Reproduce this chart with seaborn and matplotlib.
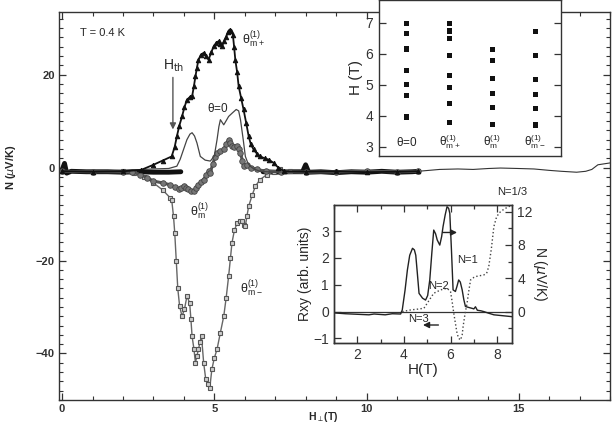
import numpy as np
import seaborn as sns
import matplotlib.pyplot as plt
from matplotlib.ticker import MultipleLocator

# main panel: N vs H_perp at T = 0.4 K
tp_h = [0, 1, 2, 2.6, 3.0, 3.3, 3.6, 3.7, 3.77, 3.85, 3.94, 4.02, 4.1, 4.2, 4.27, 4.33, 4.38,
        4.43, 4.48, 4.56, 4.65, 4.73, 4.81, 4.9, 4.98, 5.06, 5.14, 5.2, 5.25, 5.32, 5.39, 5.45,
        5.5, 5.56, 5.61, 5.65, 5.69, 5.75, 5.8, 5.88, 5.96, 6.05, 6.13, 6.2, 6.29, 6.4, 6.51,
        6.65, 6.79, 6.95, 7.1, 7.3, 8, 9, 10, 11, 11.7]
tp_n = [-0.8, -0.9, -0.8, -0.5, 0.6, 1.5, 2.4, 4.5, 6.7, 9, 11, 13, 14.6, 15.2, 15.3, 17.5, 19.6,
        21.5, 23.2, 24.3, 24.7, 24.0, 23.2, 24.8, 26.1, 26.8, 27.2, 26.5, 26.1, 27.2, 28.2, 29.2,
        29.7, 29.3, 28.6, 26, 23.2, 20.5, 17.5, 15, 12.5, 9.5, 6.7, 5.0, 3.9, 3.0, 2.4,
        2.0, 1.7, 1.0, 0.0, -0.8, -0.9, -0.8, -1.0, -0.9, -0.8]

t0_h = [0, 1, 2, 3, 3.5, 3.77, 3.88, 3.99, 4.1, 4.2, 4.27, 4.35, 4.43, 4.54, 4.7, 4.87, 5.0,
        5.09, 5.15, 5.2, 5.31, 5.4, 5.47, 5.6, 5.72, 5.8, 5.86, 5.95, 6.02, 6.1, 6.18, 6.3,
        6.5, 7, 8, 9, 10, 11, 11.7]
t0_n = [-0.7, -0.8, -0.6, -0.3, -0.2, 0.3, 1.8, 3.9, 6.0, 7.2, 7.5, 6.8, 5.3, 2.4, 1.6, 1.4, 2.5,
        6.0, 8.8, 10.3, 9.2, 10.2, 11, 11.8, 12.5, 12.2, 10.3, 6, 2.4, 1.0, 0.3, -0.3,
        -0.8, -1.0, -0.8, -0.9, -0.8, -0.9, -0.8]

tm_h = [0, 1, 2, 2.3, 2.57, 2.8, 3.0, 3.3, 3.55, 3.7, 3.83, 3.92, 3.99, 4.07, 4.15, 4.24, 4.32,
        4.4, 4.48, 4.56, 4.65, 4.73, 4.81, 4.87, 4.95, 5.02, 5.09, 5.2, 5.31, 5.39, 5.47, 5.53,
        5.58, 5.66, 5.75, 5.8, 5.86, 5.92, 5.96, 6.07, 6.2, 6.4, 6.7, 7.2, 8, 9, 10, 11, 11.7]
tm_n = [-0.8, -0.9, -0.9, -1.0, -1.5, -2.2, -2.9, -3.3, -3.7, -4.2, -4.7, -4.3, -4.0, -4.3, -4.7,
        -5.0, -5.1, -4.5, -3.7, -3.1, -2.6, -1.7, -0.8, -1.1, 0.8, 2.2, 3.2, 3.5, 3.9, 5.0, 6.0,
        5.2, 4.6, 4.4, 4.6, 4.0, 3.2, 1.5, 0.3, 0.6, 0.0, -0.4, -0.8, -0.9, -1.0, -0.9, -0.8,
        -0.9, -0.8]

tmm_h = [0, 1, 2, 2.35, 2.7, 3.0, 3.3, 3.55, 3.6, 3.66, 3.7, 3.75, 3.8, 3.86, 3.94, 4.02, 4.1,
         4.19, 4.23, 4.27, 4.33, 4.38, 4.43, 4.48, 4.53, 4.58, 4.65, 4.72, 4.78, 4.85, 4.92, 5.0,
         5.09, 5.2, 5.31, 5.39, 5.47, 5.53, 5.58, 5.66, 5.75, 5.83, 5.91, 5.97, 6.02, 6.07, 6.13,
         6.24, 6.35, 6.5, 6.73, 6.95, 7.17, 7.5, 8, 9, 10, 11, 11.7]
tmm_n = [-0.8, -0.9, -0.8, -1.1, -2.0, -3.3, -4.8, -6.5, -6.9, -10.5, -14, -20, -26, -29.8, -32,
         -30.5, -27.7, -29.1, -32.5, -36.3, -39, -42, -40.5, -39.1, -37.5, -36.3, -42, -45.6,
         -46.5, -47.5, -43.4, -41, -39.1, -35.5, -32, -28, -23.4, -19.5, -16.2, -13.5, -11.9,
         -11.4, -11.5, -12.3, -12.6, -10.5, -8.3, -6, -4.0, -2.6, -1.5, -0.9, -0.4, -0.7, -0.9,
         -1.0, -0.9, -1.0, -0.8]

base_h = [0.0, 0.08, 0.15, 0.3, 0.8, 1.5, 2.0, 2.5, 3.0, 3.5, 3.9]
base_n = [-0.5, 0.9, -1.2, -0.8, -0.9, -0.9, -1.0, -0.9, -1.0, -1.0, -0.9]
base2_h = [6.6, 7.0, 7.5, 7.9, 8.0, 8.1, 8.5, 9.0, 9.5, 10.0, 10.5, 11.0, 11.5, 11.7]
base2_n = [-0.9, -1.0, -0.9, -0.9, 0.6, -1.0, -0.9, -1.1, -0.9, -1.0, -0.8, -1.0, -0.9, -0.8]

tail_h = [11.7, 12.4, 13.0, 13.5, 14.0, 14.4, 15.0, 15.5, 16.0, 16.4, 16.9, 17.2, 17.4, 17.6, 18.0]
tail_n = [-0.8, -0.4, -0.3, -0.4, -0.2, -0.1, -0.2, -0.3, -0.6, -0.8, -1.0, -0.8, -0.4, 0.6, 1.0]

# top inset: peak positions H (T) for each angle
cat_labels = [r'$\mathregular{\theta}$=0', r'$\mathregular{\theta_{m+}^{(1)}}$',
              r'$\mathregular{\theta_{m}^{(1)}}$', r'$\mathregular{\theta_{m-}^{(1)}}$']
peaks = [
    [6.96, 6.65, 6.15, 5.45, 5.0, 4.64, 3.96],
    [6.96, 6.73, 6.49, 5.94, 5.29, 4.91, 4.39, 3.78],
    [6.14, 5.77, 5.19, 4.71, 4.27, 3.71],
    [6.72, 5.95, 5.17, 4.67, 4.24, 3.70],
]

# bottom inset: Rxy and N at theta = 0
rxy_h = [1.03, 1.5, 2.0, 2.5, 2.72, 3.2, 3.5, 3.86, 3.93, 4.05, 4.15, 4.25, 4.37, 4.45, 4.51, 4.58,
         4.65, 4.8, 4.93, 5.02, 5.11, 5.2, 5.28, 5.36, 5.43, 5.54, 5.62, 5.68, 5.77, 5.85, 5.92,
         5.97, 6.04, 6.11, 6.21, 6.28, 6.35, 6.42, 6.5, 6.57, 6.64, 6.8, 6.93, 7.0, 7.07, 7.15,
         7.3, 7.43, 7.6, 7.86, 8.2, 8.65]
rxy = [-0.05, -0.08, -0.1, -0.12, -0.09, -0.12, -0.08, -0.09, 0.06, 0.8, 1.55, 2.1, 2.36, 2.3,
       2.1, 1.4, 0.68, 0.5, 0.43, 0.6, 1.18, 2.2, 3.04, 2.9, 2.67, 2.48, 2.8, 3.17, 3.6, 3.91,
       3.85, 3.66, 2.3, 0.81, 0.75, 0.95, 1.18, 1.1, 0.81, 0.45, 0.19, 0.15, 0.12, 0.1, 0.18,
       0.05, 0.03, 0.0, -0.05, -0.12, -0.15, -0.19]
nin_h = [3.93, 4.29, 4.6, 4.86, 5.0, 5.14, 5.28, 5.43, 5.57, 5.71, 5.85, 6.0, 6.07, 6.14, 6.21,
         6.28, 6.35, 6.43, 6.5, 6.54, 6.62, 6.71, 6.78, 6.86, 7.0, 7.07, 7.25, 7.43, 7.55, 7.64,
         7.75, 7.86, 7.96, 8.07, 8.3, 8.65]
nin = [0, 0.2, 0.3, 0.4, 1.0, 1.6, 2.2, 2.4, 2.6, 2.7, 2.8, 2.4, 1.2, -0.2, -1.4, -2.6, -3.2,
       -3.4, -2.8, -1.8, -0.3, 1.0, 2.4, 3.8, 4.1, 4.2, 4.3, 4.4, 4.6, 5.4, 7.5, 10.2, 11.2,
       11.8, 12.3, 12.8]

sns.set_style('ticks')
plt.rcParams['font.family'] = ['Liberation Sans', 'DejaVu Sans']
plt.rcParams['mathtext.fontset'] = 'dejavusans'
plt.rcParams['axes.edgecolor'] = '#333333'
plt.rcParams['xtick.color'] = '#333333'
plt.rcParams['ytick.color'] = '#333333'

fig = plt.figure(figsize=(6.15, 4.25), dpi=100)
ax = fig.add_axes([0.096, 0.059, 0.896, 0.913])

sns.lineplot(x=base_h, y=base_n, ax=ax, color='#111111', lw=3.5, sort=False, estimator=None)
sns.lineplot(x=base2_h, y=base2_n, ax=ax, color='#111111', lw=3.5, sort=False, estimator=None)
sns.lineplot(x=tail_h, y=tail_n, ax=ax, color='#333333', lw=0.8, sort=False, estimator=None)
sns.lineplot(x=tmm_h, y=tmm_n, ax=ax, color='#666666', lw=1.0, marker='s', markersize=3.5,
             markerfacecolor='#cccccc', markeredgecolor='#555555', markeredgewidth=0.8,
             sort=False, estimator=None)
sns.lineplot(x=tm_h, y=tm_n, ax=ax, color='#555555', lw=2.2, marker='o', markersize=4,
             markerfacecolor='#777777', markeredgecolor='#444444', markeredgewidth=0.6,
             sort=False, estimator=None)
sns.lineplot(x=t0_h, y=t0_n, ax=ax, color='#444444', lw=0.9, sort=False, estimator=None)
sns.lineplot(x=tp_h, y=tp_n, ax=ax, color='#111111', lw=1.3, marker='^', markersize=3.2,
             markerfacecolor='#111111', markeredgecolor='#111111', sort=False, estimator=None)

ax.set_xlim(-0.1, 18.0)
ax.set_ylim(-50, 33.5)
ax.xaxis.set_major_locator(MultipleLocator(5))
ax.xaxis.set_minor_locator(MultipleLocator(1))
ax.yaxis.set_major_locator(MultipleLocator(20))
ax.yaxis.set_minor_locator(MultipleLocator(2))
ax.tick_params(which='both', direction='in', top=True, right=True, labelsize=8, pad=3)
ax.tick_params(which='major', length=5, width=0.9)
ax.tick_params(which='minor', length=3, width=0.8)
for lab in ax.get_xticklabels() + ax.get_yticklabels():
    lab.set_fontweight('bold')
for s in ax.spines.values():
    s.set_linewidth(1.0)
ax.set_xlabel(r'H$_{\perp}$(T)', fontsize=7.5, fontweight='bold')
ax.xaxis.set_label_coords(0.48, -0.027)
ax.set_ylabel(r'N ($\mu$V/K)', fontsize=8, fontweight='bold')
ax.yaxis.set_label_coords(-0.075, 0.6)

ax.text(0.6, 29, 'T = 0.4 K', fontsize=8, va='center')
ax.text(3.3, 22, r'H$_{\rm th}$', fontsize=10, va='center')
ax.annotate('', xy=(3.64, 7.6), xytext=(3.64, 20),
            arrowprops=dict(arrowstyle='-|>', color='#555555', lw=1.0, mutation_scale=9))
ax.text(5.9, 27.5, r'$\mathregular{\theta_{m+}^{(1)}}$', fontsize=9, va='center')
ax.text(4.75, 12.8, r'$\mathregular{\theta}$=0', fontsize=8.5, va='center')
ax.text(4.2, -9.5, r'$\mathregular{\theta_{m}^{(1)}}$', fontsize=9, va='center')
ax.text(5.85, -26, r'$\mathregular{\theta_{m-}^{(1)}}$', fontsize=9, va='center')

# top inset
ax1 = fig.add_axes([0.616, 0.633, 0.296, 0.367])
ax1.set_facecolor('white')
for i, vals in enumerate(peaks):
    sns.scatterplot(x=[i] * len(vals), y=vals, ax=ax1, marker='s', s=14, color='#111111',
                    edgecolor='none')
ax1.set_xlim(-0.65, 3.6)
ax1.set_ylim(2.7, 7.73)
ax1.set_xticks([])
ax1.yaxis.set_major_locator(MultipleLocator(1))
ax1.tick_params(axis='y', direction='in', right=True, labelsize=10, length=5, width=0.9, pad=4)
ax1.set_ylabel('H (T)', fontsize=11, labelpad=2)
for i, lab in enumerate(cat_labels):
    ax1.text(i, 3.15, lab, fontsize=8.5, ha='center', va='center')
for s in ax1.spines.values():
    s.set_linewidth(1.0)

# bottom inset
ax2 = fig.add_axes([0.543, 0.193, 0.290, 0.325])
ax2.set_facecolor('white')
ax2.axhline(0, color='#333333', lw=0.9)
sns.lineplot(x=rxy_h, y=rxy, ax=ax2, color='#222222', lw=1.0, sort=False, estimator=None)
ax2.set_xlim(1.0, 8.65)
ax2.set_ylim(-1.17, 3.98)
ax2.xaxis.set_major_locator(MultipleLocator(2))
ax2.xaxis.set_minor_locator(MultipleLocator(1))
ax2.yaxis.set_major_locator(MultipleLocator(1))
ax2.tick_params(which='both', direction='in', top=True, labelsize=10, width=0.9)
ax2.tick_params(which='major', length=5)
ax2.tick_params(which='minor', length=3)
ax2.set_xlabel('H(T)', fontsize=11, labelpad=1)
ax2.set_ylabel('Rxy (arb. units)', fontsize=10, labelpad=1)
ax2r = ax2.twinx()
sns.lineplot(x=nin_h, y=nin, ax=ax2r, color='#444444', lw=1.0, linestyle=':', sort=False,
             estimator=None)
ax2r.set_ylim(-3.76, 12.8)
ax2r.yaxis.set_major_locator(MultipleLocator(4))
ax2r.yaxis.set_minor_locator(MultipleLocator(2))
ax2r.tick_params(which='both', direction='in', labelsize=10, width=0.9)
ax2r.tick_params(which='major', length=5)
ax2r.tick_params(which='minor', length=3)
ax2r.set_ylabel(r'N ($\mu$V/K)', fontsize=10, rotation=270, labelpad=12)
for s in list(ax2.spines.values()) + list(ax2r.spines.values()):
    s.set_linewidth(1.0)

ax2r.text(8.0, 14.3, 'N=1/3', fontsize=8, ha='left', va='center', clip_on=False)
ax2r.text(6.3, 6.2, 'N=1', fontsize=8, va='center')
ax2r.text(5.05, 3.1, 'N=2', fontsize=8, va='center')
ax2r.text(4.2, -0.9, 'N=3', fontsize=8, va='center')
ax2.annotate('', xy=(6.4, 2.95), xytext=(5.55, 2.95),
             arrowprops=dict(arrowstyle='-|>', color='#222222', lw=1.0, mutation_scale=9))
ax2.annotate('', xy=(4.7, -0.5), xytext=(5.6, -0.5),
             arrowprops=dict(arrowstyle='-|>', color='#222222', lw=1.0, mutation_scale=9))

plt.savefig('out.png', dpi=100)
